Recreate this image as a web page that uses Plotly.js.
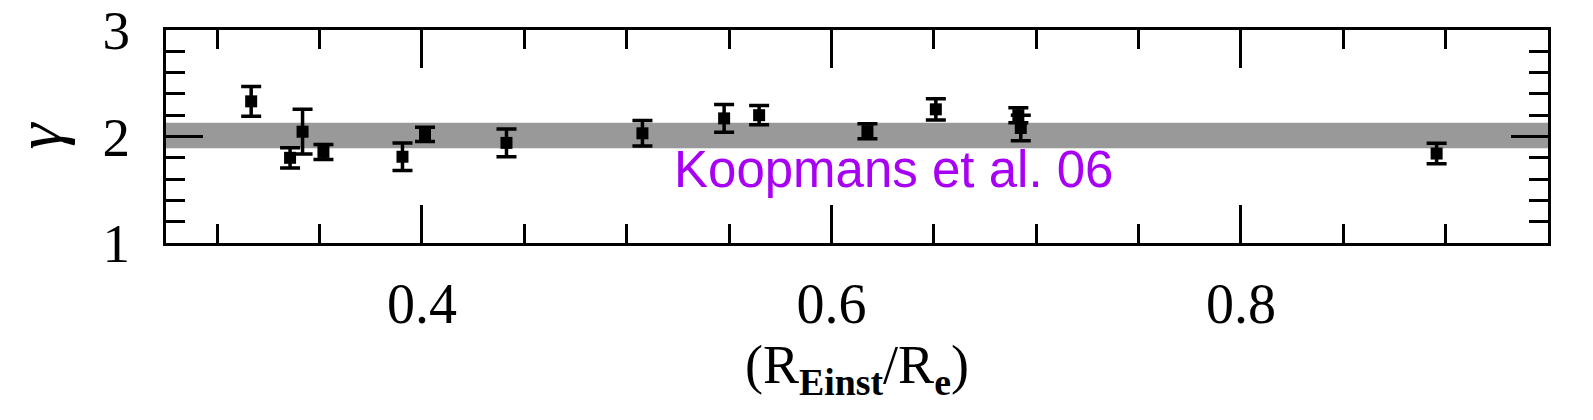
<!DOCTYPE html>
<html>
<head>
<meta charset="utf-8">
<script src="https://cdn.plot.ly/plotly-3.0.1.min.js"></script>
<style>html,body{margin:0;padding:0;background:#fff;}#chart{width:1593px;height:420px;}</style>
</head>
<body>
<div id="chart"></div>
<script>
// R_Einst / R_e ratio for each lens
const ratio = [0.3166, 0.3356, 0.3417, 0.3519, 0.3905, 0.4015, 0.4413, 0.5077, 0.5476, 0.5647, 0.6176, 0.6510, 0.6913, 0.6925, 0.8956];
// logarithmic density slope gamma
const gamma = [2.33, 1.80, 2.045, 1.855, 1.81, 2.02, 1.94, 2.03, 2.17, 2.20, 2.05, 2.255, 2.20, 2.08, 1.84];
// symmetric 1-sigma errors on gamma
const gammaErr = [0.14, 0.095, 0.21, 0.07, 0.13, 0.067, 0.13, 0.12, 0.13, 0.09, 0.07, 0.10, 0.07, 0.12, 0.097];
// Koopmans et al. 06 band
const bandLow = 1.89;
const bandHigh = 2.13;
const bandLabel = 'Koopmans et al. 06';
// tick labels
const xTicks = [0.4, 0.6, 0.8];
const yTicks = [1, 2, 3];

const serif = 'Liberation Serif, Times New Roman, serif';

const trace = {
  x: ratio, y: gamma, type: 'scatter', mode: 'markers',
  marker: {symbol: 'square', size: 12, color: '#000'},
  error_y: {type: 'data', array: gammaErr, visible: true, color: '#000', thickness: 3.5, width: 10},
  hoverinfo: 'x+y', showlegend: false
};

const axisCommon = {
  showline: true, linewidth: 3, linecolor: '#000', mirror: 'allticks',
  ticks: 'inside', tickwidth: 3, tickcolor: '#000', ticklabeloverflow: 'allow',
  showgrid: false, zeroline: false, tickmode: 'array'
};

const layout = {
  width: 1593, height: 420,
  margin: {l: 166, r: 45, t: 30, b: 177},
  paper_bgcolor: '#fff', plot_bgcolor: '#fff',
  xaxis: Object.assign({}, axisCommon, {
    range: [0.275, 0.95], tickvals: xTicks, ticktext: xTicks.map(v => v.toFixed(1)),
    ticklen: 38, ticklabelstandoff: 10,
    tickfont: {family: serif, size: 56, color: '#000'},
    minor: {dtick: 0.05, tick0: 0, ticks: 'inside', ticklen: 19, tickwidth: 3, tickcolor: '#000', showgrid: false},
    title: {text: '(R<sub><b>Einst</b></sub>/R<sub><b>e</b></sub>)', font: {family: serif, size: 54, color: '#000'}, standoff: 5}
  }),
  yaxis: Object.assign({}, axisCommon, {
    range: [1, 3], tickvals: yTicks, ticktext: yTicks.map(String),
    ticklen: 37, ticklabelstandoff: 22,
    tickfont: {family: serif, size: 55, color: '#000'},
    minor: {dtick: 0.2, tick0: 0, ticks: 'inside', ticklen: 19, tickwidth: 3, tickcolor: '#000', showgrid: false},
    title: {text: '<i>γ</i>', font: {family: serif, size: 66, color: '#000'}, standoff: 20}
  }),
  shapes: [{
    type: 'rect', xref: 'paper', x0: 0, x1: 1, yref: 'y', y0: bandLow, y1: bandHigh,
    fillcolor: '#999999', line: {width: 0}, layer: 'below'
  }],
  annotations: [{
    text: bandLabel, xref: 'paper', yref: 'paper', x: 0.366, y: 0.345,
    xanchor: 'left', yanchor: 'middle', showarrow: false,
    font: {family: 'Liberation Sans, Arial, sans-serif', size: 51, color: '#a800f5'}
  }]
};

Plotly.newPlot('chart', [trace], layout, {displayModeBar: false, staticPlot: true});
</script>
</body>
</html>
